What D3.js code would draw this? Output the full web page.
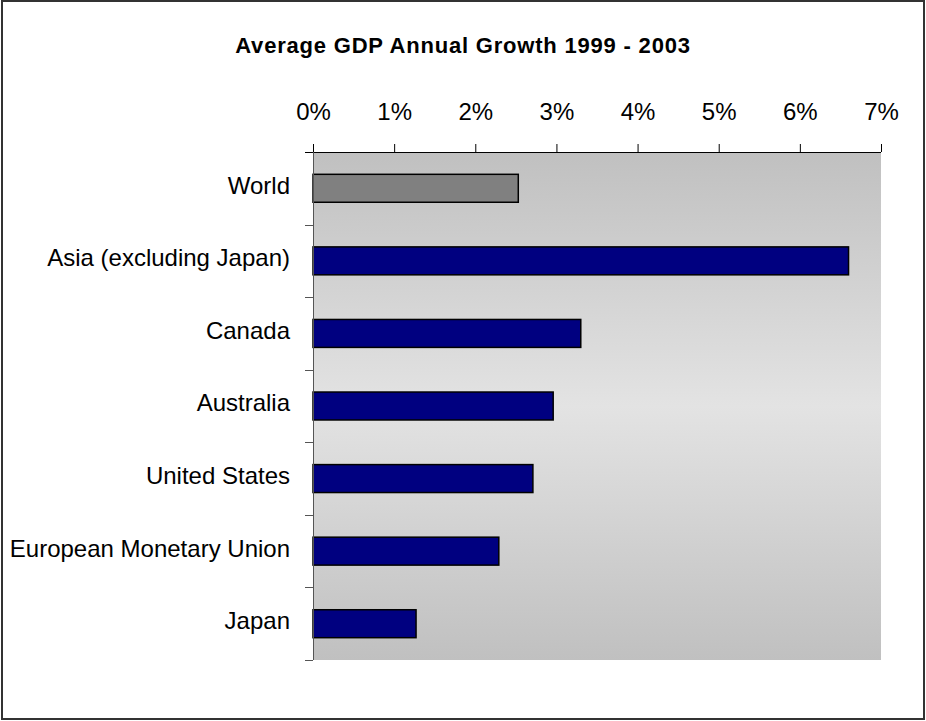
<!DOCTYPE html>
<html>
<head>
<meta charset="utf-8">
<script src="https://cdn.jsdelivr.net/npm/d3@7"></script>
<style>
  body { margin: 0; background: #fff; }
  text { font-family: "Liberation Sans", Arial, sans-serif; }
</style>
</head>
<body>
<script>
// data
var regions = ['World', 'Asia (excluding Japan)', 'Canada', 'Australia',
  'United States', 'European Monetary Union', 'Japan'];
var growth = [2.53, 6.6, 3.3, 2.96, 2.71, 2.29, 1.27];
var barColors = ['#808080', '#000080', '#000080', '#000080', '#000080', '#000080', '#000080'];
var tickValues = [0, 1, 2, 3, 4, 5, 6, 7];

var width = 926;
var height = 721;
var margin = {top: 152, right: 45, bottom: 61, left: 313};

var svg = d3.select('body')
  .append('svg')
    .attr('width', width)
    .attr('height', height);

// outer frame
svg.append('rect')
  .attr('x', 2)
  .attr('y', 1)
  .attr('width', 922)
  .attr('height', 718)
  .attr('fill', 'none')
  .attr('stroke', '#333')
  .attr('stroke-width', 2);

svg.append('text')
  .attr('x', 463)
  .attr('y', 53)
  .attr('text-anchor', 'middle')
  .style('font-size', '22px')
  .style('font-weight', 'bold')
  .style('letter-spacing', '0.8px')
  .text('Average GDP Annual Growth 1999 - 2003');

var plotW = width - margin.left - margin.right;
var plotH = height - margin.top - margin.bottom;

var x = d3.scaleLinear()
  .domain([0, 7])
  .range([0, plotW]);

var y = d3.scaleBand()
  .domain(regions)
  .range([0, plotH])
  .paddingInner(0.615)
  .paddingOuter(0.3075);

var g = svg.append('g')
  .attr('transform', 'translate(' + margin.left + ',' + margin.top + ')');

// background gradient
var grad = svg.append('defs')
  .append('linearGradient')
    .attr('id', 'bg')
    .attr('x1', 0).attr('y1', 0)
    .attr('x2', 0).attr('y2', 1);
grad.append('stop').attr('offset', '0%').attr('stop-color', '#c0c0c0');
grad.append('stop').attr('offset', '50%').attr('stop-color', '#e3e3e3');
grad.append('stop').attr('offset', '100%').attr('stop-color', '#c0c0c0');

g.append('rect')
  .attr('width', plotW)
  .attr('height', plotH)
  .attr('fill', 'url(#bg)');

// bars
g.selectAll('.bar')
  .data(regions)
  .enter()
  .append('rect')
    .attr('class', 'bar')
    .attr('x', 0)
    .attr('y', function(d) { return y(d); })
    .attr('width', function(d, i) { return x(growth[i]); })
    .attr('height', y.bandwidth())
    .attr('fill', function(d, i) { return barColors[i]; })
    .attr('stroke', '#000')
    .attr('stroke-width', 1.5);

// top axis
var xAxis = g.append('g')
  .call(d3.axisTop(x)
    .tickValues(tickValues)
    .tickFormat(function(d) { return d + '%'; })
    .tickSize(8)
    .tickPadding(24)
    .tickSizeOuter(0));
xAxis.select('.domain')
  .attr('d', 'M-8,0.5H' + plotW);
xAxis.selectAll('line').attr('stroke', '#000');
xAxis.selectAll('text')
  .style('font-size', '24px')
  .attr('fill', '#000');

// left axis with ticks at band boundaries
var boundaries = d3.range(regions.length + 1).map(function(i) { return i * plotH / regions.length; });
var yAxis = g.append('g');
yAxis.append('line')
  .attr('x1', 0.5).attr('x2', 0.5)
  .attr('y1', 0).attr('y2', plotH)
  .attr('stroke', '#555');
yAxis.selectAll('.btick')
  .data(boundaries.slice(1))
  .enter()
  .append('line')
    .attr('class', 'btick')
    .attr('x1', -8).attr('x2', 0)
    .attr('y1', function(d) { return Math.round(d) + 0.5; })
    .attr('y2', function(d) { return Math.round(d) + 0.5; })
    .attr('stroke', '#555');

g.selectAll('.label')
  .data(regions)
  .enter()
  .append('text')
    .attr('class', 'label')
    .attr('x', -23)
    .attr('y', function(d) { return y(d) + y.bandwidth() / 2 - 3; })
    .attr('dy', '0.35em')
    .attr('text-anchor', 'end')
    .style('font-size', '24px')
    .text(function(d) { return d; });
</script>
</body>
</html>
